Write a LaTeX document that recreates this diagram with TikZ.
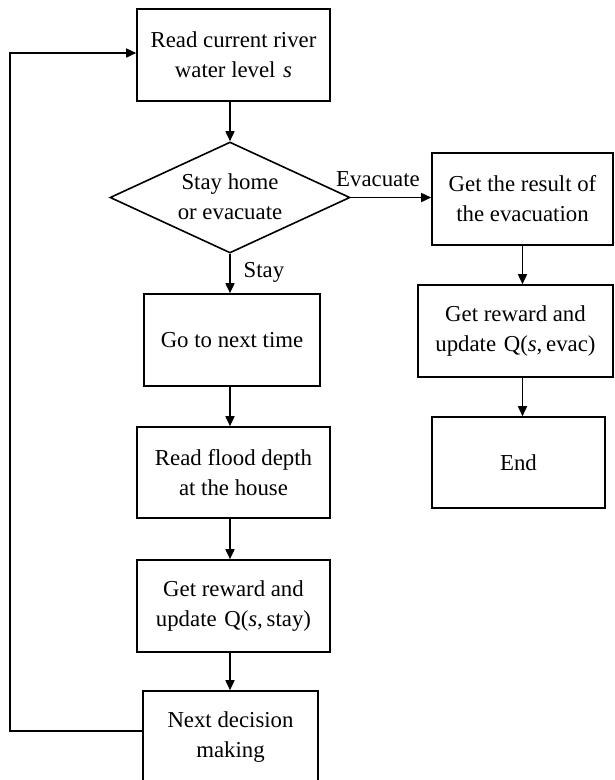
\documentclass[tikz,border=0pt]{standalone}
\usepackage{fontspec}
\setmainfont{Liberation Serif}
\usetikzlibrary{shapes.geometric,arrows.meta}
\begin{document}
\begin{tikzpicture}[x=1pt,y=-1pt,
  every node/.style={font=\fontsize{22.8}{30}\selectfont, align=center, inner sep=0pt},
  stepbox/.style={draw, line width=1.6pt, minimum width=#1, minimum height=92pt},
  stepbox/.default=193pt,
  decision/.style={draw, line width=1.6pt, diamond, aspect=2.16, minimum width=240pt, minimum height=111pt},
  arr/.style={line width=1.6pt, -{Triangle[length=10pt,width=9pt]}},
  lbl/.style={font=\fontsize{22.8}{28}\selectfont}]
\clip (0,0) rectangle (614,780);
\node[stepbox] (b1) at (233.5,55) {Read current river\\water level\,\,\textit{s}};
\node[decision] (dia) at (230,197.5) {};
\node at (230,197) {Stay home\\or evacuate};
\node[stepbox=176pt] (b2) at (232,340) {Go to next time};
\node[stepbox, minimum height=91pt] (b3) at (233.5,472.5) {Read flood depth\\at the house};
\node[stepbox] (b4) at (233.5,606) {Get reward and\\update\,\,Q(\textit{s},\,stay)};
\node[stepbox=175pt] (b5) at (230.5,737) {Next decision\\making};
\node[stepbox=181pt] (r1) at (522.5,199) {Get the result of\\the evacuation};
\node[stepbox=195pt] (r2) at (515.5,331) {Get reward and\\update\,\,Q(\textit{s},\,evac)};
\node[stepbox=173pt, minimum height=91pt] (r3) at (518.5,462.5) {End};
\coordinate (lb) at (10,731);
\coordinate (lt) at (10,53);
\draw[arr] (b1.south -| dia.north) -- (dia.north);
\draw[arr] (dia.south) -- (dia.south |- b2.north);
\draw[arr] (b2.south -| dia.south) -- (b3.north -| dia.south);
\draw[arr] (b3.south -| dia.south) -- (b4.north -| dia.south);
\draw[arr] (b4.south -| dia.south) -- (b5.north -| dia.south);
\draw[arr] (dia.east) -- (dia.east -| r1.west);
\draw[arr] (r1.south) -- (r1.south |- r2.north);
\draw[arr] (r1.south |- r2.south) -- (r1.south |- r3.north);
\draw[arr] (b5.west |- lb) -- (lb) -- (lt) -- (lt -| b1.west);
\node[lbl] (le) at (378,179) {Evacuate};
\node[lbl] (ls) at (264,272) {Stay};
\end{tikzpicture}
\end{document}
